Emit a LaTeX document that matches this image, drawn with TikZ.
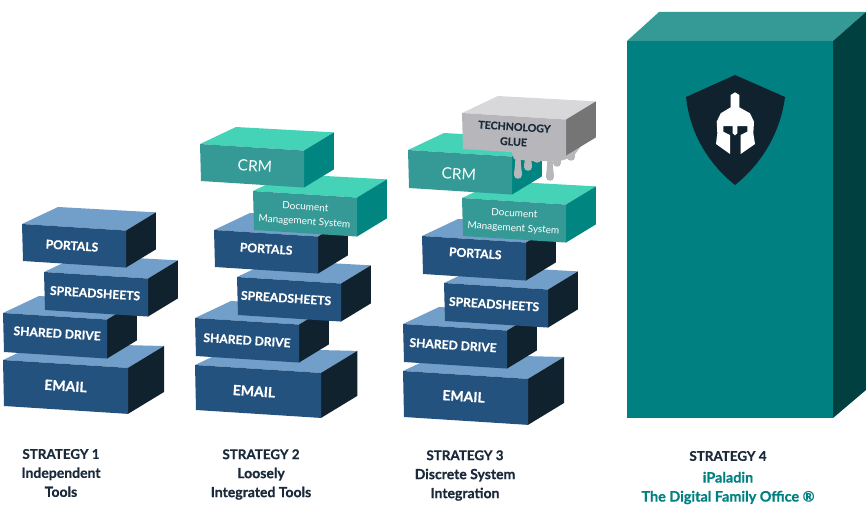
\documentclass[tikz,border=0pt]{standalone}
\usepackage{fontspec}
\setmainfont{Lato}[BoldFeatures={FakeBold=0.6}]
\usepackage{xcolor}
\usetikzlibrary{positioning,calc}

\definecolor{bluefront}{HTML}{24527F}
\definecolor{bluetop}{HTML}{729FC9}
\definecolor{blueside}{HTML}{11222F}
\definecolor{tealfront}{HTML}{359A96}
\definecolor{tealtop}{HTML}{45D3B8}
\definecolor{tealside}{HTML}{008580}
\definecolor{gluefront}{HTML}{B7B7BB}
\definecolor{gluetop}{HTML}{D8D8DB}
\definecolor{glueside}{HTML}{757575}
\definecolor{officeteal}{HTML}{008080}
\definecolor{officetop}{HTML}{359A96}
\definecolor{officeside}{HTML}{004040}
\definecolor{inkdark}{HTML}{1A2A3A}

\tikzset{
	slabtext/.style={text=white,font=\bfseries\fontsize{12.1}{15}\selectfont,align=center,inner sep=0pt},
	bigtext/.style={font=\bfseries\fontsize{14}{16}\selectfont},
	crmtext/.style={font=\fontsize{15.5}{18}\selectfont},
	doctext/.style={font=\fontsize{10}{14.5}\selectfont},
	gluetext/.style={text=inkdark,font=\bfseries\fontsize{10.6}{15}\selectfont},
	captext/.style={text=inkdark,font=\bfseries\fontsize{14}{19}\selectfont,align=center,inner sep=0pt},
	officetext/.style={text=officeteal,font=\bfseries\fontsize{14.4}{19}\selectfont}
}

\newcommand{\strategyline}[1]{{\fontsize{13.4}{19}\selectfont STRATEGY #1}}

% [text options]{name}{x}{y}{width}{height}{palette}{label}
\newcommand{\slab}[8][]{%
	\pgfmathsetmacro\tilt{0.063*#5}
	\pgfmathsetmacro\dpx{0.288*#5}
	\pgfmathsetmacro\dpy{0.175*#5}
	\fill[#7top] (#3,#4) -- (#3+36,#4-17) -- (#3+#5+\dpx,#4+\tilt-\dpy) -- (#3+#5,#4+\tilt) -- cycle;
	\fill[#7side] (#3+#5,#4+\tilt) -- (#3+#5+\dpx,#4+\tilt-\dpy) -- (#3+#5+\dpx,#4+\tilt-\dpy+#6) -- (#3+#5,#4+\tilt+#6) -- cycle;
	\fill[#7front] (#3,#4) -- (#3+#5,#4+\tilt) -- (#3+#5,#4+\tilt+#6) -- (#3+1,#4+#6) -- cycle;
	\node[slabtext,rotate=-3.6,#1] (#2) at (#3+#5/2,#4+\tilt/2+#6/2) {#8};
}

\begin{document}
\begin{tikzpicture}[x=1pt,y=-1pt]
	\useasboundingbox (0,0) rectangle (866,519);

	% strategy 1
	\slab[bigtext,yshift=1pt]{emailA}{3}{360}{125}{46}{blue}{EMAIL}
	\slab[xshift=2pt,yshift=2.5pt]{driveA}{3}{313}{104}{39}{blue}{SHARED DRIVE}
	\slab[xshift=-1pt,yshift=1pt]{sheetsA}{44}{272}{104}{38}{blue}{SPREADSHEETS}
	\slab[xshift=-2pt]{portalsA}{22}{224}{104}{37}{blue}{PORTALS}

	% strategy 2
	\slab[bigtext,xshift=-4pt]{emailB}{195}{365}{126}{45}{blue}{EMAIL}
	\slab{driveB}{195}{318}{104}{38}{blue}{SHARED DRIVE}
	\slab[xshift=-3pt,yshift=1pt]{sheetsB}{237}{277}{104}{38}{blue}{SPREADSHEETS}
	\slab[yshift=3pt]{portalsB}{214}{230}{104}{37}{blue}{PORTALS}
	\slab[doctext,yshift=-1pt]{docB}{253}{191}{104}{39}{teal}{Document\\Management System}
	\slab[crmtext,xshift=3pt]{crmB}{200}{144}{104}{37}{teal}{CRM}

	% strategy 3
	\slab[bigtext,xshift=-2pt,yshift=1.5pt]{emailC}{403}{371}{125}{46}{blue}{EMAIL}
	\slab[xshift=-2pt,yshift=1pt]{driveC}{403}{324}{104}{38}{blue}{SHARED DRIVE}
	\slab[xshift=-2pt,yshift=1pt]{sheetsC}{444}{283}{104}{38}{blue}{SPREADSHEETS}
	\slab[xshift=1pt,yshift=5pt]{portalsC}{422}{236}{104}{38}{blue}{PORTALS}
	\slab[doctext,yshift=-1pt]{docC}{462}{198}{104}{38}{teal}{Document\\Management System}
	\slab[crmtext,xshift=-1pt,yshift=-2pt]{crmC}{408}{150}{104}{38}{teal}{CRM}

	% drips of the glue
	\fill[gluefront] (511,150) -- (566,155) -- (581,146) -- (573,157) -- (560,161) -- (530,161) -- (514,159) -- cycle;
	\foreach \px/\py in {518/179,528/171,537/163,550/181,557/167,571/161} {
		\fill[gluefront] ({\px-2.5},150) .. controls ({\px-2.5},{\py-12}) and ({\px-4},{\py-8}) .. ({\px-4},{\py-4})
			.. controls ({\px-4},{\py+1}) and ({\px+4},{\py+1}) .. ({\px+4},{\py-4})
			.. controls ({\px+4},{\py-8}) and ({\px+2.5},{\py-12}) .. ({\px+2.5},150) -- cycle;
	}
	\slab[gluetext]{glue}{462}{113}{104}{36}{glue}{TECHNOLOGY\\GLUE}

	% strategy 4
	\fill[officetop] (627,41) -- (659,12) -- (866,12) -- (833,41) -- cycle;
	\fill[officeside] (833,41) -- (866,12) -- (866,390) -- (833,418) -- cycle;
	\fill[officeteal] (627,41) rectangle (833,418);

	% shield
	\fill[blueside] (735,75) -- (785,97) .. controls (780,135) and (760,165) .. (735,185)
		.. controls (710,165) and (690,135) .. (686,97) -- cycle;
	\fill[white] (735,92.3) -- (739.3,95) -- (739.3,107.3) -- (750,113.3) -- (754,121.7) -- (753.3,133.3)
		-- (755,144) -- (740.7,154) -- (740.7,135) -- (747.3,131.7) -- (747.3,126) -- (737.3,126)
		-- (737.3,133.3) -- (735,135.3) -- (732.7,133.3) -- (732.7,126) -- (723.3,126) -- (723.3,131.7)
		-- (730,135) -- (730,154) -- (716,144) -- (717.3,133.3) -- (716.7,121.7) -- (720.7,113.3)
		-- (730.7,107.3) -- (730.7,95) -- cycle;

	% captions
	\node[captext] (capA) at (61,473) {\strategyline{1}\\Independent\\Tools};
	\node[captext] (capB) at (261,474.5) {\strategyline{2}\\Loosely\\Integrated Tools};
	\node[captext] (capC) at (465,475.5) {\strategyline{3}\\Discrete System\\Integration};
	\node[captext] (capD) at (728,456) {\strategyline{4}};
	\node[captext,officetext] (nameD) at (728,488) {iPaladin\\The Digital Family Office ®};
\end{tikzpicture}
\end{document}
